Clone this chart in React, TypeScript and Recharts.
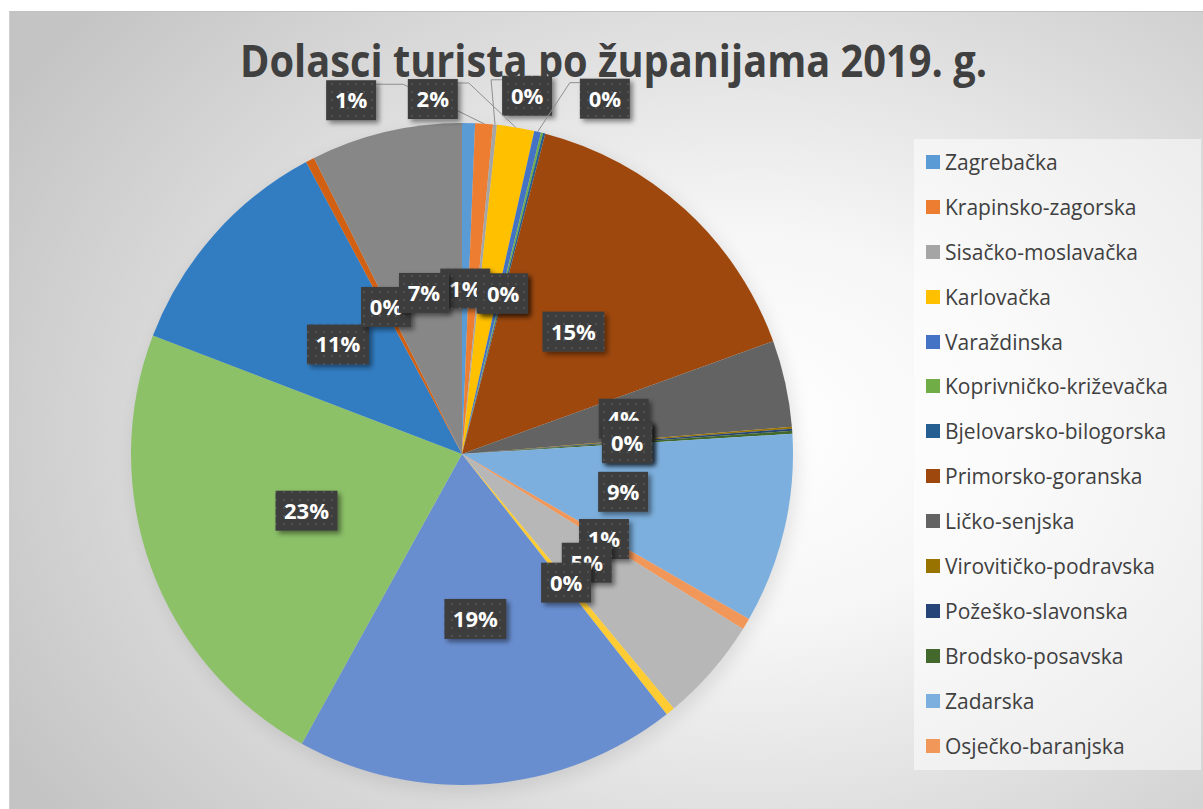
import React from "react";
import { PieChart, Pie, Cell, Legend } from "recharts";

// Dolasci turista po županijama 2019. (thousands)
const counties = [
  "Zagrebačka",
  "Krapinsko-zagorska",
  "Sisačko-moslavačka",
  "Karlovačka",
  "Varaždinska",
  "Koprivničko-križevačka",
  "Bjelovarsko-bilogorska",
  "Primorsko-goranska",
  "Ličko-senjska",
  "Virovitičko-podravska",
  "Požeško-slavonska",
  "Brodsko-posavska",
  "Zadarska",
  "Osječko-baranjska",
  "Šibensko-kninska",
  "Vukovarsko-srijemska",
  "Splitsko-dalmatinska",
  "Istarska",
  "Dubrovačko-neretvanska",
  "Međimurska",
  "Grad Zagreb",
];

const arrivals = [
  124, 170, 37, 358, 65, 20, 22, 3030, 830, 18, 20, 29, 1823, 110, 1000, 86,
  3665, 4479, 2234, 84, 1450,
];

const sliceColors = [
  "#5B9BD5", "#ED7D31", "#A5A5A5", "#FFC000", "#4472C4", "#70AD47", "#255E91",
  "#9E480E", "#636363", "#997300", "#264478", "#43682B", "#7CAFDD", "#F1975A",
  "#B7B7B7", "#FFCD33", "#698ED0", "#8CC168", "#327DC2", "#D26012", "#878787",
];

// the legend box in the original is cut off after 14 rows
const legendRows = 14;

// labels that Excel pushed outside with a leader line:
// angle clockwise from 12 o'clock, distance in radii, elbow length in px
const outsideLabels: Record<string, { angle: number; dist: number; elbow: number }> = {
  "Krapinsko-zagorska": { angle: 342.6, dist: 1.12, elbow: 27 },
  "Karlovačka": { angle: 355.3, dist: 1.076, elbow: 11 },
  "Sisačko-moslavačka": { angle: 10.3, dist: 1.1, elbow: 11 },
  "Varaždinska": { angle: 21.9, dist: 1.157, elbow: 10 },
};

const data = counties.map((name, i) => ({ name, value: arrivals[i] }));

const RAD = Math.PI / 180;
const FONT = "'Open Sans', 'Noto Sans', sans-serif";

function PctLabel(props: any) {
  const { cx, cy, midAngle, outerRadius, percent, index } = props;
  const text = `${Math.round(percent * 100)}%`;
  const w = text.length > 2 ? 62 : 50;
  const h = 40;
  const out = outsideLabels[counties[index]];
  let bx: number;
  let by: number;
  let leader: React.ReactNode = null;
  if (out) {
    const a = (90 - out.angle) * RAD;
    bx = cx + outerRadius * out.dist * Math.cos(a);
    by = cy - outerRadius * out.dist * Math.sin(a);
    const ex = cx + outerRadius * Math.cos(-midAngle * RAD);
    const ey = cy + outerRadius * Math.sin(-midAngle * RAD);
    const side = bx < ex ? 1 : -1;
    const ax = bx + (side * w) / 2;
    const ay = by - h / 2 + 4;
    const kx = ax + side * out.elbow;
    leader = (
      <polyline
        points={`${ex},${ey} ${kx},${ay} ${ax},${ay}`}
        fill="none"
        stroke="#8f8f8f"
        strokeWidth={1}
      />
    );
  } else {
    const r = outerRadius * 0.5;
    bx = cx + r * Math.cos(-midAngle * RAD);
    by = cy + r * Math.sin(-midAngle * RAD);
  }
  return (
    <g>
      {leader}
      <rect
        x={bx - w / 2}
        y={by - h / 2}
        width={w}
        height={h}
        fill="url(#dotFill)"
        filter="url(#labelShadow)"
      />
      <text
        x={bx}
        y={by + 8}
        textAnchor="middle"
        fill="#ffffff"
        fontFamily={FONT}
        fontWeight={700}
        fontSize={22}
      >
        {text}
      </text>
    </g>
  );
}

function LegendBox() {
  return (
    <div
      style={{
        width: 287,
        height: 631,
        background: "rgba(255,255,255,0.5)",
        boxSizing: "border-box",
        paddingTop: 0.5,
        fontFamily: FONT,
      }}
    >
      {counties.slice(0, legendRows).map((name, i) => (
        <div key={name} style={{ display: "flex", alignItems: "center", height: 44.9 }}>
          <span
            style={{
              width: 14,
              height: 14,
              marginLeft: 12,
              marginRight: 5,
              background: sliceColors[i],
              flex: "none",
            }}
          />
          <span style={{ fontSize: 21, color: "#404040", whiteSpace: "nowrap" }}>{name}</span>
        </div>
      ))}
    </div>
  );
}

export default function App() {
  return (
    <div style={{ position: "absolute", left: 0, top: 0, width: 1203, height: 809, background: "#fff", overflow: "hidden" }}>
      <style>{`.pie-backdrop { filter: blur(7px); opacity: 0.32; transform: translate(2px, 3px); }`}</style>
      <div
        style={{
          position: "absolute",
          left: 9,
          top: 11,
          width: 1194,
          height: 798,
          borderTop: "1px solid #c2c2c2",
          borderLeft: "1px solid #cfcfcf",
          background:
            "radial-gradient(ellipse 72% 82% at 62% 52%, #ffffff 0%, #f6f6f6 30%, #dadada 68%, #c4c4c4 100%)",
        }}
      />
      <svg style={{ position: "absolute", left: 0, top: 0 }} width={1203} height={110}>
        <text
          x={613.5}
          y={77}
          textAnchor="middle"
          textLength={747}
          lengthAdjust="spacingAndGlyphs"
          fontFamily={FONT}
          fontWeight={700}
          fontSize={44}
          fill="#404040"
        >
          Dolasci turista po županijama 2019. g.
        </text>
      </svg>
      <div style={{ position: "absolute", left: 0, top: 0 }}>
        <PieChart width={1203} height={809} margin={{ top: 0, right: 0, bottom: 0, left: 0 }}>
          <defs>
            <pattern id="dotFill" width="8" height="8" patternUnits="userSpaceOnUse">
              <rect width="8" height="8" fill="#3d3d3d" />
              <circle cx="4" cy="4" r="1.1" fill="#565656" />
            </pattern>
            <filter id="labelShadow" x="-20%" y="-20%" width="150%" height="160%">
              <feDropShadow dx="3" dy="3" stdDeviation="2.5" floodColor="#000" floodOpacity="0.45" />
            </filter>
          </defs>
          <Pie
            data={data}
            dataKey="value"
            nameKey="name"
            cx={462}
            cy={454}
            outerRadius={331}
            startAngle={90}
            endAngle={-270}
            fill="#000"
            stroke="none"
            className="pie-backdrop"
            legendType="none"
            isAnimationActive={false}
          />
          <Pie
            data={data}
            dataKey="value"
            nameKey="name"
            cx={462}
            cy={454}
            outerRadius={331}
            startAngle={90}
            endAngle={-270}
            stroke="none"
            label={PctLabel}
            labelLine={false}
            isAnimationActive={false}
          >
            {data.map((d, i) => (
              <Cell key={d.name} fill={sliceColors[i]} stroke="none" />
            ))}
          </Pie>
          <Legend
            layout="vertical"
            align="right"
            verticalAlign="middle"
            wrapperStyle={{ left: 914, top: 139, width: 287, height: 631 }}
            content={() => <LegendBox />}
          />
        </PieChart>
      </div>
    </div>
  );
}
